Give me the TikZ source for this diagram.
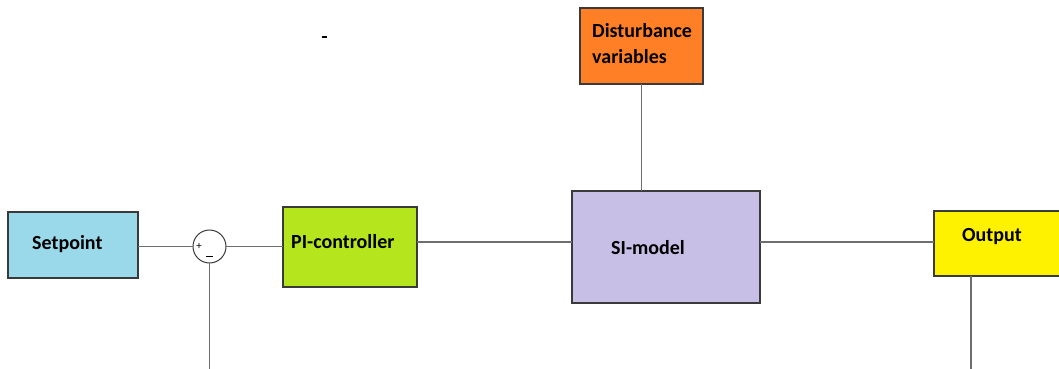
\documentclass[tikz,border=0pt]{standalone}
\usepackage{fontspec}
\setmainfont{Carlito}
\definecolor{cSet}{HTML}{99D9EA}
\definecolor{cPI}{HTML}{B5E61D}
\definecolor{cSI}{HTML}{C8BFE7}
\definecolor{cDist}{HTML}{FF7F27}
\definecolor{cOut}{HTML}{FFF200}
\definecolor{cLine}{HTML}{6E6E6E}
\definecolor{cBorder}{HTML}{3A3A3A}
\tikzset{
  blockbox/.style={draw=cBorder, line width=1.2pt, rectangle, inner sep=0pt, outer sep=0pt},
  lbl/.style={anchor=west, inner sep=0pt, font=\fontsize{20}{24}\selectfont\bfseries, text=black},
  conn/.style={draw=cLine, line width=1.4pt},
  sign/.style={inner sep=0pt, font=\fontsize{11}{12}\selectfont}
}
\begin{document}
\begin{tikzpicture}[x=1pt,y=-1pt]
\useasboundingbox (0,0) rectangle (1059,369);
% boxes
\node[blockbox, fill=cSet, minimum width=130pt, minimum height=66pt] (sp) at (73,245) {};
\node[blockbox, fill=cPI, minimum width=134pt, minimum height=80pt] (pi) at (350,247) {};
\node[blockbox, fill=cSI, minimum width=188pt, minimum height=112pt] (si) at (666,247) {};
\node[blockbox, fill=cDist, minimum width=123pt, minimum height=76pt] (dist) at (641.5,46) {};
\node[blockbox, fill=cOut, minimum width=130pt, minimum height=65pt] (out) at (999,243.5) {};
% summing junction
\node[draw=cBorder, line width=1pt, circle, fill=white, minimum size=33pt, inner sep=0pt, outer sep=0pt] (sum) at (209.5,246.5) {};
\node[sign] (plus) at (199,246) {+};
\node[sign] (minus) at (209.5,258) {\rule[2.5pt]{7pt}{0.8pt}};
% labels
\node[lbl] (tsp) at (32,244) {Setpoint};
\node[lbl] (tpi) at (291,242) {PI-controller};
\node[lbl] (tsi) at (611,248) {SI-model};
\node[lbl] (td1) at (592,31) {Disturbance};
\node[lbl] (td2) at (592,57) {variables};
\node[lbl] (tout) at (962,237) {Output};
\node[inner sep=0pt] (dash) at (324,37) {\rule{5pt}{1.2pt}};
% coordinates
\coordinate (fb1) at (209.5,369);
\coordinate (fb2) at (971,369);
\coordinate (siout) at ([yshift=5pt]si.east);
% connectors
\draw[conn] (sp.east |- sum.west) -- (sum.west);
\draw[conn] (sum.east) -- (pi.west |- sum.east);
\draw[conn] ([yshift=5pt]pi.east) -- ([yshift=5pt]si.west);
\draw[conn] (siout) -- (out.west |- siout);
\draw[conn] (dist.south) -- (dist.south |- si.north);
\draw[conn] (sum.south) -- (fb1);
\draw[conn] (fb2 |- out.south) -- (fb2);
\end{tikzpicture}
\end{document}
